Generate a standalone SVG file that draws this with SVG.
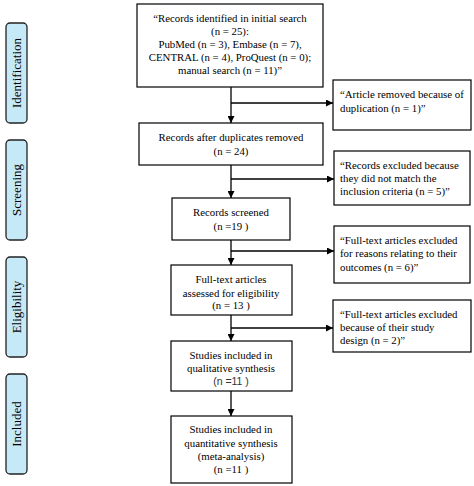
<svg xmlns="http://www.w3.org/2000/svg" width="474" height="486" viewBox="0 0 474 486">
<defs>
<marker id="ah" viewBox="0 0 10 10" refX="10" refY="5" markerWidth="7" markerHeight="7" markerUnits="userSpaceOnUse" orient="auto">
<path d="M0,0 L10,5 L0,10 z" fill="#000"/>
</marker>
<style>
.box{fill:#fff;stroke:#000;stroke-width:1.2}
.side{fill:#c6e9f8;stroke:#222;stroke-width:1.3}
.t{font-family:"Liberation Serif","Times New Roman",serif;font-size:10.8px;fill:#000}
.c{text-anchor:middle}
.s{font-family:"Liberation Serif","Times New Roman",serif;font-size:13px;fill:#000;text-anchor:middle}
.g{font-family:"Liberation Sans",Arial,sans-serif;font-size:10.5px;fill:#333;text-anchor:middle}
.ln{stroke:#000;stroke-width:1.3;fill:none}
</style>
</defs>
<rect width="474" height="486" fill="#fff"/>
<g id="phase-identification">
<rect class="side" x="6" y="23" width="21" height="100" rx="4"/>
<text class="s" transform="translate(21,73) rotate(-90)">Identification</text>
</g>
<g id="phase-screening">
<rect class="side" x="6" y="140" width="21" height="100" rx="4"/>
<text class="s" transform="translate(21,190) rotate(-90)">Screening</text>
</g>
<g id="phase-eligibility">
<rect class="side" x="6" y="257" width="21" height="100" rx="4"/>
<text class="s" transform="translate(21,307) rotate(-90)">Eligibility</text>
</g>
<g id="phase-included">
<rect class="side" x="6" y="374" width="21" height="100" rx="4"/>
<text class="s" transform="translate(21,424) rotate(-90)">Included</text>
</g>
<g id="connectors">
<line class="ln" x1="231" y1="87" x2="231" y2="123" marker-end="url(#ah)"/>
<line class="ln" x1="231" y1="103" x2="333" y2="103" marker-end="url(#ah)"/>
<line class="ln" x1="231" y1="165" x2="231" y2="198" marker-end="url(#ah)"/>
<line class="ln" x1="231" y1="179" x2="334" y2="179" marker-end="url(#ah)"/>
<line class="ln" x1="231" y1="240" x2="231" y2="265" marker-end="url(#ah)"/>
<line class="ln" x1="231" y1="251" x2="334" y2="251" marker-end="url(#ah)"/>
<line class="ln" x1="231" y1="315" x2="231" y2="341" marker-end="url(#ah)"/>
<line class="ln" x1="231" y1="328" x2="333" y2="328" marker-end="url(#ah)"/>
<line class="ln" x1="231" y1="391" x2="231" y2="416" marker-end="url(#ah)"/>
</g>
<g id="records-identified">
<rect class="box" x="137" y="4" width="186" height="83"/>
<text class="t c" x="230" y="22">“Records identified in initial search</text>
<text class="t c" x="230" y="35">(n = 25):</text>
<text class="t c" x="230" y="48">PubMed (n = 3), Embase (n = 7),</text>
<text class="t c" x="230" y="61">CENTRAL (n = 4), ProQuest (n = 0);</text>
<text class="t c" x="230" y="74">manual search (n = 11)”</text>
</g>
<g id="article-removed">
<rect class="box" x="333" y="80" width="138" height="50"/>
<text class="t" x="340" y="98">“Article removed because of</text>
<text class="t" x="340" y="112">duplication (n = 1)”</text>
</g>
<g id="records-after-duplicates">
<rect class="box" x="139" y="123" width="184" height="42"/>
<text class="t c" x="231" y="141">Records after duplicates removed</text>
<text class="t c" x="231" y="155">(n = 24)</text>
</g>
<g id="records-excluded">
<rect class="box" x="334" y="151" width="136" height="54"/>
<text class="t" x="340" y="169">“Records excluded because</text>
<text class="t" x="340" y="182">they did not match the</text>
<text class="t" x="340" y="195">inclusion criteria (n = 5)”</text>
</g>
<g id="records-screened">
<rect class="box" x="172" y="198" width="118" height="42"/>
<text class="t c" x="231" y="216">Records screened</text>
<text class="t c" x="231" y="230">(n =19 )</text>
</g>
<g id="excluded-outcomes">
<rect class="box" x="334" y="226" width="136" height="57"/>
<text class="t" x="340" y="244">“Full-text articles excluded</text>
<text class="t" x="340" y="257">for reasons relating to their</text>
<text class="t" x="340" y="271">outcomes (n = 6)”</text>
</g>
<g id="full-text-assessed">
<rect class="box" x="171" y="265" width="121" height="50"/>
<text class="t c" x="231" y="283">Full-text articles</text>
<text class="t c" x="231" y="297">assessed for eligibility</text>
<text class="t c" x="231" y="309">(n = 13 )</text>
</g>
<g id="excluded-design">
<rect class="box" x="333" y="300" width="138" height="52"/>
<text class="t" x="340" y="318">“Full-text articles excluded</text>
<text class="t" x="340" y="331">because of their study</text>
<text class="t" x="340" y="344">design (n = 2)”</text>
</g>
<g id="qualitative-synthesis">
<rect class="box" x="171" y="341" width="121" height="50"/>
<text class="t c" x="231" y="359">Studies included in</text>
<text class="t c" x="231" y="372">qualitative synthesis</text>
<text class="g" x="231" y="385">(n =11 )</text>
</g>
<g id="quantitative-synthesis">
<rect class="box" x="171" y="416" width="121" height="67"/>
<text class="t c" x="231" y="433">Studies included in</text>
<text class="t c" x="231" y="447">quantitative synthesis</text>
<text class="t c" x="231" y="460">(meta-analysis)</text>
<text class="t c" x="231" y="473">(n =11 )</text>
</g>
</svg>
